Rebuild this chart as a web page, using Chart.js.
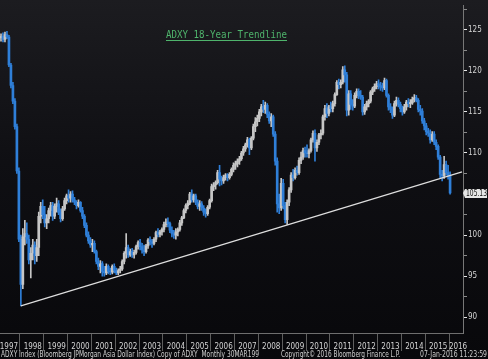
<!DOCTYPE html>
<html>
<head>
<meta charset="utf-8">
<script src="https://cdn.jsdelivr.net/npm/chart.js@4.4.1/dist/chart.umd.min.js"></script>
<style>
    html, body { margin: 0; padding: 0; background: #0c0c10; }
    #wrap { width: 488px; height: 359px; }
</style>
</head>
<body>
<div id="wrap"><canvas id="myChart" width="488" height="359"></canvas></div>
<script>
// ADXY monthly bars, Mar 1997 .. Jan 2016
const startYear = 1997;
const startMonth = 3;
const emptyMonthsAfter = 6; // axis runs on to Jul 2016

const opens = [
    124.0, 124.2, 123.8, 124.4, 124.1, 120.7, 118.2, 116.3, 113.2, 107.8,
    99.5, 94.0, 99.8, 100.2, 99.5, 97.0, 97.8, 98.8, 97.5, 98.5, 102.3, 103.5,
    102.5, 101.5, 102.0, 103.0, 103.6, 102.3, 103.5, 103.8, 102.8, 102.0, 103.2, 104.2,
    104.8, 104.5, 105.0, 104.3, 104.0, 103.6, 104.0, 103.0, 102.3, 101.2, 100.0, 99.3,
    98.8, 99.0, 98.0, 96.8, 96.2, 96.5, 95.6, 95.4, 96.2, 95.6, 95.5, 96.2,
    95.7, 95.4, 95.7, 95.9, 96.8, 97.8, 98.5, 97.6, 98.0, 97.6, 97.9, 98.6,
    99.1, 98.6, 98.2, 98.0, 98.7, 99.4, 99.2, 99.0, 99.5, 100.3, 100.1, 100.4,
    100.7, 101.3, 101.6, 101.4, 100.6, 100.2, 100.0, 100.4, 100.7, 101.5, 102.1, 103.0,
    103.6, 103.9, 105.0, 104.3, 104.8, 104.0, 103.5, 103.8, 103.3, 102.8, 102.6, 103.4,
    104.2, 105.9, 106.1, 106.4, 107.6, 106.8, 106.6, 107.0, 107.3, 107.0, 107.4, 108.0,
    108.5, 108.7, 109.0, 109.3, 110.0, 110.5, 111.0, 111.6, 110.6, 111.8, 113.2, 113.8,
    114.2, 115.0, 115.6, 115.3, 115.8, 114.7, 113.9, 114.4, 112.3, 109.0, 103.8, 103.3,
    106.3, 103.6, 101.9, 104.0, 105.5, 107.3, 107.0, 107.9, 107.6, 109.1, 109.5, 110.3,
    110.0, 109.9, 110.3, 111.6, 112.4, 110.6, 111.3, 112.2, 112.4, 114.4, 115.4, 114.8,
    115.6, 115.4, 116.0, 117.1, 118.6, 118.3, 118.6, 120.1, 119.5, 115.2, 117.2, 115.9,
    115.7, 117.0, 117.5, 117.0, 116.8, 115.0, 115.6, 116.0, 116.3, 117.4, 117.8, 118.1,
    118.4, 118.2, 118.0, 117.9, 118.8, 117.0, 115.6, 115.3, 114.6, 116.0, 116.4, 115.9,
    115.4, 115.0, 115.6, 116.2, 116.0, 116.1, 116.5, 116.7, 116.4, 115.3, 115.1, 113.9,
    113.3, 112.6, 112.4, 111.6, 112.3, 111.3, 110.8, 109.5, 107.4, 107.2, 108.6, 107.6,
    107.3
];
const highs = [
    124.5, 124.6, 124.7, 124.8, 124.3, 120.9, 118.6, 116.6, 113.5, 108.2,
    100.0, 100.8, 101.8, 101.5, 100.0, 98.5, 99.5, 99.2, 99.5, 102.8, 104.0, 104.3,
    103.5, 102.5, 103.3, 104.0, 104.0, 103.8, 104.5, 104.2, 103.2, 103.5, 104.5, 105.0,
    105.5, 105.3, 105.4, 104.6, 104.2, 104.3, 104.1, 103.4, 102.5, 101.5, 100.4, 99.7,
    99.5, 99.3, 98.2, 97.2, 96.9, 96.8, 96.2, 96.5, 96.4, 96.0, 96.4, 96.5,
    96.0, 95.9, 96.2, 97.0, 98.0, 100.2, 98.8, 98.3, 98.4, 98.2, 98.8, 99.3,
    99.5, 99.0, 98.8, 98.9, 99.6, 99.8, 99.5, 99.7, 100.5, 100.8, 100.6, 100.9,
    101.6, 102.0, 102.1, 101.6, 101.0, 100.6, 100.8, 100.9, 101.8, 102.3, 103.2, 103.8,
    104.2, 105.2, 105.5, 105.0, 105.0, 104.3, 104.2, 104.1, 103.6, 103.2, 103.6, 104.4,
    106.2, 106.4, 106.6, 107.9, 108.5, 107.2, 107.3, 107.5, 107.5, 107.6, 108.2, 108.8,
    109.0, 109.3, 109.6, 110.2, 110.8, 111.2, 111.9, 111.8, 112.0, 113.5, 114.3, 114.6,
    115.3, 115.9, 116.4, 116.2, 116.0, 115.0, 114.8, 114.6, 112.6, 109.4, 105.0, 106.9,
    106.8, 104.0, 104.3, 105.8, 107.6, 108.0, 108.2, 108.4, 109.4, 110.1, 110.6, 110.7,
    111.0, 110.5, 111.8, 112.7, 112.8, 111.6, 112.4, 112.8, 114.6, 115.8, 116.0, 115.8,
    116.2, 116.3, 117.3, 118.8, 119.0, 118.9, 120.5, 120.6, 119.8, 117.6, 117.6, 116.5,
    117.3, 117.8, 117.8, 117.6, 117.0, 115.9, 116.3, 116.5, 117.6, 118.0, 118.4, 118.7,
    118.9, 118.6, 118.5, 119.1, 119.0, 117.2, 116.0, 115.6, 116.3, 116.8, 116.7, 116.2,
    115.7, 115.9, 116.4, 116.6, 116.5, 116.8, 117.1, 117.0, 116.6, 115.8, 115.4, 114.2,
    113.6, 113.0, 112.8, 112.6, 112.6, 111.6, 111.0, 109.7, 107.9, 109.6, 109.0, 108.5,
    107.7
];
const lows = [
    123.6, 123.5, 123.5, 123.9, 120.5, 117.9, 116.0, 112.9, 107.5, 99.2,
    91.4, 93.5, 98.8, 99.0, 96.5, 94.8, 97.0, 96.5, 96.8, 97.5, 101.5, 102.0,
    101.0, 100.8, 101.5, 102.3, 101.8, 102.0, 102.8, 102.5, 101.6, 101.8, 103.0, 103.8,
    104.0, 104.0, 104.0, 103.7, 103.2, 103.4, 102.8, 102.0, 100.9, 99.8, 99.0, 98.5,
    98.0, 97.8, 96.5, 95.8, 95.4, 95.0, 95.0, 95.2, 95.3, 95.2, 95.3, 95.4,
    95.2, 95.2, 95.4, 95.7, 96.5, 97.2, 97.3, 97.4, 97.3, 97.2, 97.7, 98.3,
    98.2, 97.8, 97.5, 97.8, 98.4, 98.8, 98.5, 98.8, 99.2, 99.8, 99.8, 100.0,
    100.4, 101.0, 101.0, 100.3, 99.8, 99.6, 99.5, 99.9, 100.5, 101.2, 102.0, 102.7,
    103.2, 103.7, 104.0, 104.0, 103.7, 103.2, 103.0, 103.0, 102.4, 102.2, 102.4, 103.2,
    104.0, 105.4, 105.6, 106.2, 106.0, 106.1, 106.3, 106.7, 106.6, 106.8, 107.2, 107.7,
    108.0, 108.3, 108.6, 109.1, 109.7, 110.2, 110.7, 109.8, 110.4, 111.6, 112.6, 113.3,
    113.8, 114.5, 114.9, 114.8, 114.3, 113.6, 113.2, 112.0, 108.5, 102.8, 102.6, 103.0,
    103.2, 101.5, 101.3, 103.6, 105.2, 106.6, 106.8, 107.3, 107.4, 108.7, 109.2, 109.5,
    109.5, 109.4, 110.1, 111.3, 109.0, 110.2, 111.0, 111.7, 112.2, 114.0, 114.3, 114.5,
    115.0, 115.0, 115.7, 117.0, 117.8, 117.9, 118.4, 118.6, 114.5, 114.6, 115.3, 115.2,
    115.5, 116.7, 116.6, 116.5, 114.6, 114.7, 115.2, 115.6, 116.1, 117.1, 117.5, 117.8,
    117.8, 117.6, 117.5, 117.7, 116.8, 115.2, 114.9, 114.2, 114.4, 115.7, 115.6, 115.0,
    114.6, 114.8, 115.2, 115.6, 115.5, 115.9, 116.2, 116.2, 115.0, 114.6, 113.6, 112.8,
    112.2, 112.0, 111.2, 111.4, 111.0, 110.4, 109.2, 106.9, 106.6, 106.9, 107.3, 106.8,
    105.0
];
const closes = [
    124.2, 123.8, 124.4, 124.1, 120.7, 118.2, 116.3, 113.2, 107.8, 99.5,
    94.0, 99.8, 100.2, 99.5, 97.0, 97.8, 98.8, 97.5, 98.5, 102.3, 103.5, 102.5,
    101.5, 102.0, 103.0, 103.6, 102.3, 103.5, 103.8, 102.8, 102.0, 103.2, 104.2, 104.8,
    104.5, 105.0, 104.3, 104.0, 103.6, 104.0, 103.0, 102.3, 101.2, 100.0, 99.3, 98.8,
    99.0, 98.0, 96.8, 96.2, 96.5, 95.6, 95.4, 96.2, 95.6, 95.5, 96.2, 95.7,
    95.4, 95.7, 95.9, 96.8, 97.8, 98.5, 97.6, 98.0, 97.6, 97.9, 98.6, 99.1,
    98.6, 98.2, 98.0, 98.7, 99.4, 99.2, 99.0, 99.5, 100.3, 100.1, 100.4, 100.7,
    101.3, 101.6, 101.4, 100.6, 100.2, 100.0, 100.4, 100.7, 101.5, 102.1, 103.0, 103.6,
    103.9, 105.0, 104.3, 104.8, 104.0, 103.5, 103.8, 103.3, 102.8, 102.6, 103.4, 104.2,
    105.9, 106.1, 106.4, 107.6, 106.8, 106.6, 107.0, 107.3, 107.0, 107.4, 108.0, 108.5,
    108.7, 109.0, 109.3, 110.0, 110.5, 111.0, 111.6, 110.6, 111.8, 113.2, 113.8, 114.2,
    115.0, 115.6, 115.3, 115.8, 114.7, 113.9, 114.4, 112.3, 109.0, 103.8, 103.3, 106.3,
    103.6, 101.9, 104.0, 105.5, 107.3, 107.0, 107.9, 107.6, 109.1, 109.5, 110.3, 110.0,
    109.9, 110.3, 111.6, 112.4, 110.6, 111.3, 112.2, 112.4, 114.4, 115.4, 114.8, 115.6,
    115.4, 116.0, 117.1, 118.6, 118.3, 118.6, 120.1, 119.5, 115.2, 117.2, 115.9, 115.7,
    117.0, 117.5, 117.0, 116.8, 115.0, 115.6, 116.0, 116.3, 117.4, 117.8, 118.1, 118.4,
    118.2, 118.0, 117.9, 118.8, 117.0, 115.6, 115.3, 114.6, 116.0, 116.4, 115.9, 115.4,
    115.0, 115.6, 116.2, 116.0, 116.1, 116.5, 116.7, 116.4, 115.3, 115.1, 113.9, 113.3,
    112.6, 112.4, 111.6, 112.3, 111.3, 110.8, 109.5, 107.4, 107.2, 108.6, 107.6, 107.3,
    105.13
];

// trendline drawn from the Jan-1998 low to the right edge
const trendDates = ['1998-01', '2016-07'];
const trendValues = [91.4, 107.7];

// year labels along the bottom and the month they sit on
const yearTickDates = ['1997-07', '1998-07', '1999-07', '2000-07', '2001-07', '2002-07', '2003-07',
    '2004-07', '2005-07', '2006-07', '2007-07', '2008-07', '2009-07', '2010-07', '2011-07',
    '2012-07', '2013-07', '2014-07', '2015-07', '2016-05'];
const yearLabels = ['1997', '1998', '1999', '2000', '2001', '2002', '2003', '2004', '2005', '2006',
    '2007', '2008', '2009', '2010', '2011', '2012', '2013', '2014', '2015', '2016'];

const titleText = 'ADXY 18-Year Trendline';
const footerLeft = 'ADXY Index (Bloomberg JPMorgan Asia Dollar Index) Copy of ADXY  Monthly 30MAR199';
const footerMid = 'Copyright\u00A9 2016 Bloomberg Finance L.P.';
const footerRight = '07-Jan-2016 11:23:59';

const upColor = '#c6c6c6';
const downColor = '#2f7fd8';
const smallFont = "'DejaVu Sans Condensed', sans-serif";

// month categories
let labels = [];
for (let i = 0; i < closes.length + emptyMonthsAfter; i++) {
    let m = startMonth - 1 + i;
    let y = startYear + Math.floor(m / 12);
    let mm = (m % 12) + 1;
    labels.push(y + '-' + (mm < 10 ? '0' + mm : mm));
}

let bodyData = [];
let wickData = [];
let barColors = [];
for (let i = 0; i < closes.length; i++) {
    bodyData.push([opens[i], closes[i]]);
    wickData.push([lows[i], highs[i]]);
    barColors.push(closes[i] >= opens[i] ? upColor : downColor);
}

let trendData = labels.map(function (l) {
    let k = trendDates.indexOf(l);
    return k >= 0 ? trendValues[k] : null;
});

const decor = {
    id: 'decor',
    beforeDraw(chart) {
        const ctx = chart.ctx;
        const g = ctx.createLinearGradient(0, 0, 0, chart.height);
        g.addColorStop(0, '#1c1c20');
        g.addColorStop(0.45, '#0f0f13');
        g.addColorStop(1, '#08080b');
        ctx.save();
        ctx.fillStyle = g;
        ctx.fillRect(0, 0, chart.width, chart.height);
        ctx.restore();
    },
    afterDraw(chart) {
        const ctx = chart.ctx;
        const area = chart.chartArea;
        ctx.save();

        // title
        ctx.fillStyle = '#4fb46c';
        ctx.strokeStyle = '#4fb46c';
        ctx.font = "11px 'DejaVu Sans Mono', monospace";
        ctx.textBaseline = 'alphabetic';
        ctx.textAlign = 'left';
        ctx.fillText(titleText, 166, 38, 121);
        ctx.lineWidth = 1;
        ctx.beginPath();
        ctx.moveTo(166, 40.5);
        ctx.lineTo(287, 40.5);
        ctx.stroke();

        // last price flag
        const last = closes[closes.length - 1];
        const py = Math.round(chart.scales.y.getPixelForValue(last));
        const bx = area.right + 2;
        ctx.fillStyle = '#e6e6e6';
        ctx.beginPath();
        ctx.moveTo(area.right, py);
        ctx.lineTo(bx, py - 4);
        ctx.lineTo(chart.width - 1, py - 4);
        ctx.lineTo(chart.width - 1, py + 5);
        ctx.lineTo(bx, py + 5);
        ctx.closePath();
        ctx.fill();
        ctx.fillStyle = '#101010';
        ctx.font = '8px ' + smallFont;
        ctx.textBaseline = 'middle';
        ctx.fillText(last.toFixed(2), bx + 1, py + 1, chart.width - bx - 2);

        // footer
        ctx.fillStyle = '#cfcfcf';
        ctx.textBaseline = 'alphabetic';
        ctx.fillText(footerLeft, 1, 357, 258);
        ctx.fillText(footerMid, 281, 357, 119);
        ctx.textAlign = 'right';
        ctx.fillText(footerRight, 487, 357, 67);
        ctx.restore();
    }
};

const ctx = document.getElementById('myChart').getContext('2d');
const myChart = new Chart(ctx, {
    type: 'bar',
    data: {
        labels: labels,
        datasets: [{
                type: 'line',
                label: 'Trendline',
                data: trendData,
                borderColor: '#dedede',
                borderWidth: 1.2,
                pointRadius: 0,
                spanGaps: true,
                order: 0
            },
            {
                label: 'Body',
                data: bodyData,
                backgroundColor: barColors,
                barThickness: 2,
                minBarLength: 1,
                grouped: false,
                order: 1
            },
            {
                label: 'Wick',
                data: wickData,
                backgroundColor: barColors,
                barThickness: 1,
                grouped: false,
                order: 2
            }
        ]
    },
    options: {
        responsive: false,
        animation: false,
        layout: {
            padding: { left: 0, right: 0, top: 0, bottom: 9 }
        },
        plugins: {
            legend: { display: false },
            tooltip: { enabled: false }
        },
        scales: {
            x: {
                type: 'category',
                offset: true,
                grid: {
                    offset: true,
                    drawOnChartArea: false,
                    tickLength: 18,
                    color: function (c) {
                        let l = labels[c.index];
                        return (l && l.slice(5) === '01') ? '#5e5e5e' : 'rgba(0,0,0,0)';
                    }
                },
                border: { color: '#6e6e6e' },
                ticks: {
                    autoSkip: false,
                    maxRotation: 0,
                    minRotation: 0,
                    padding: -9,
                    color: '#d4d4d4',
                    font: { family: smallFont, size: 8 },
                    callback: function (v, i) {
                        let k = yearTickDates.indexOf(labels[i]);
                        return k >= 0 ? yearLabels[k] : '';
                    }
                },
                afterFit: function (s) { s.height = 17; }
            },
            y: {
                position: 'right',
                min: 88.1,
                max: 127.9,
                grid: {
                    drawOnChartArea: false,
                    tickLength: 4,
                    color: function (c) {
                        return (c.tick && c.tick.value % 5 === 0) ? '#e8e8e8' : '#8a8a8a';
                    }
                },
                border: { color: '#777777' },
                ticks: {
                    stepSize: 2.5,
                    includeBounds: false,
                    padding: 1,
                    color: '#d4d4d4',
                    font: { family: smallFont, size: 8 },
                    callback: function (v) { return v % 5 === 0 ? v : ''; }
                },
                afterFit: function (s) { s.width = 25; }
            }
        }
    },
    plugins: [decor]
});
</script>
</body>
</html>
